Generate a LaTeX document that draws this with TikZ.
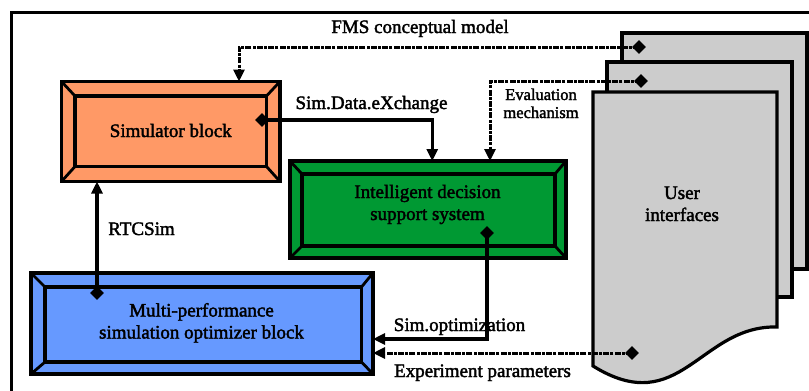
\documentclass[tikz,border=0pt]{standalone}
\usepackage{fontspec}
\setmainfont{Liberation Serif}[FakeBold=2]
\usetikzlibrary{arrows.meta,shapes.geometric}
\definecolor{simorange}{HTML}{FF9966}
\definecolor{idsgreen}{HTML}{009933}
\definecolor{optblue}{HTML}{6699FF}
\definecolor{pagegray}{HTML}{CCCCCC}
\tikzset{
  outerbox/.style={draw, line width=3.2pt, rectangle, inner sep=0pt, outer sep=0pt, line join=miter},
  innerbox/.style={draw, line width=3.2pt, rectangle, inner sep=0pt, outer sep=0pt},
  bevel/.style={line width=2.8pt},
  lbl/.style={font=\fontsize{19}{22}\selectfont, align=center, inner sep=0pt, anchor=base},
  smalllbl/.style={font=\fontsize{16.5}{18}\selectfont, align=center, inner sep=0pt, anchor=base},
  conn/.style={line width=3.2pt, -{Triangle[length=12pt,width=11pt]}},
  dconn/.style={line width=3pt, dash pattern=on 6pt off 1.2pt on 3pt off 1.2pt, -{Triangle[length=12pt,width=11pt]}},
  dmd/.style={diamond, fill=black, inner sep=0pt, minimum width=14pt, minimum height=14pt},
  page/.style={draw, line width=3.2pt, fill=pagegray, line join=miter}
}
\begin{document}
\begin{tikzpicture}[x=1pt,y=-1pt]
\useasboundingbox (0,0) rectangle (809,391);
\clip (0,0) rectangle (809,391);
% frame
\draw[line width=3pt] (11,12) rectangle (840,420);

% user interface pages
\draw[page] (622,33) rectangle (807,269);
\draw[page] (607,62) rectangle (792,297);
\draw[page] (593,92) -- (777,92) -- (777,327)
   .. controls (700,325) and (680,420) .. (593,366) -- cycle;
\node[lbl] (ui) at (682,221) {User\\interfaces};

% simulator block
\node[outerbox, fill=simorange, minimum width=218.5pt, minimum height=100pt] (sim) at (170.75,131.5) {};
\node[innerbox, minimum width=191.5pt, minimum height=70.5pt] (simin) at (170.75,131.25) {};
\foreach \a in {north west,north east,south west,south east}
  \draw[bevel] (sim.\a) -- (simin.\a);
\node[lbl] (simtxt) at (170.75,137) {Simulator block};

% intelligent decision support system
\node[outerbox, fill=idsgreen, minimum width=276pt, minimum height=97pt] (ids) at (428,209.5) {};
\node[innerbox, minimum width=253pt, minimum height=72pt] (idsin) at (428.5,210) {};
\foreach \a in {north west,north east,south west,south east}
  \draw[bevel] (ids.\a) -- (idsin.\a);
\node[lbl] (idstxt) at (427.5,220) {Intelligent decision\\support system};

% optimizer block
\node[outerbox, fill=optblue, minimum width=342pt, minimum height=101pt] (opt) at (202,323.5) {};
\node[innerbox, minimum width=316.5pt, minimum height=75pt] (optin) at (203.25,324.5) {};
\foreach \a in {north west,north east,south west,south east}
  \draw[bevel] (opt.\a) -- (optin.\a);
\node[lbl] (opttxt) at (201.5,338.5) {Multi-performance\\simulation optimizer block};

% diamonds
\node[dmd] (dsim) at (262,120) {};
\node[dmd] (dopt) at (97,293) {};
\node[dmd] (dids) at (487,233) {};
\node[dmd] (dfms) at (639,47) {};
\node[dmd] (deval) at (641,81) {};
\node[dmd] (dexp) at (632,353) {};

% connectors
\draw[conn] (dsim.center) -| ([xshift=142.25pt]ids.north west);
\draw[conn] (dopt.center) -- (dopt.center |- sim.south);
\draw[conn] (dids.center) |- ([yshift=-15.5pt]opt.east);
\draw[dconn] (dexp.center) -- (dexp.center -| opt.east);
\draw[dconn] (dfms.center) -| ([xshift=177.5pt]sim.north west);
\draw[dconn] (deval.center) -| ([xshift=200pt]ids.north west);

% labels
\node[lbl] (lfms) at (420,33) {FMS conceptual model};
\node[lbl] (lsde) at (371.5,109) {Sim.Data.eXchange};
\node[smalllbl] (leval) at (541,118) {Evaluation\\mechanism};
\node[lbl] (lrtc) at (141.5,235) {RTCSim};
\node[lbl] (lopt) at (459.5,331) {Sim.optimization};
\node[lbl] (lexp) at (482.5,377) {Experiment parameters};
\end{tikzpicture}
\end{document}
